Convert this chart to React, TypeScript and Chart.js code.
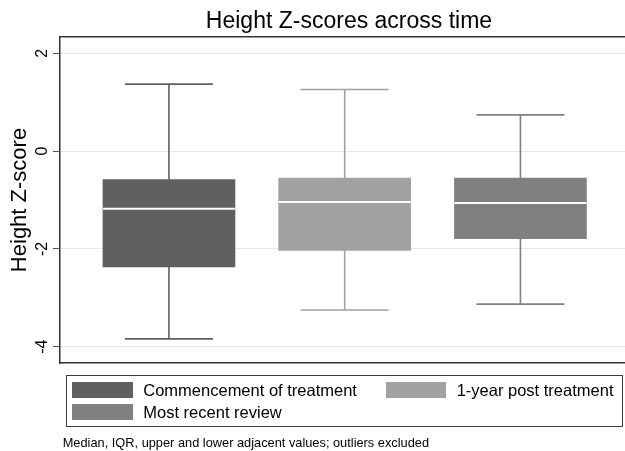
import React, { useEffect, useRef } from 'react';
import { Chart, registerables } from 'chart.js';

Chart.register(...registerables);

// ---- data ----
const categories = ['Commencement of treatment', '1-year post treatment', 'Most recent review'];
const positions = [1, 2, 3];
const upperAdjacent = [1.37, 1.26, 0.74];
const q3Values = [-0.58, -0.55, -0.55];
const medians = [-1.18, -1.04, -1.06];
const q1Values = [-2.37, -2.03, -1.79];
const lowerAdjacent = [-3.84, -3.25, -3.13];
const yTickValues = [-4, -2, 0, 2];
const boxColors = ['#606060', '#a1a1a1', '#808080'];
const chartTitle = 'Height Z-scores across time';
const yAxisTitle = 'Height Z-score';
const footnote = 'Median, IQR, upper and lower adjacent values; outliers excluded';

const FONT = "'Liberation Sans', Arial, Helvetica, sans-serif";

const boxPlugin = {
  id: 'boxWhiskers',
  beforeDatasetsDraw(chart: any) {
    const { ctx } = chart;
    const y = chart.scales.y;
    ctx.save();
    categories.forEach((_, i) => {
      const bar = chart.getDatasetMeta(i).data[0];
      if (!bar) return;
      const { x, width } = bar.getProps(['x', 'width'], true);
      const half = width / 3;
      const yMax = y.getPixelForValue(upperAdjacent[i]);
      const yQ3 = y.getPixelForValue(q3Values[i]);
      const yQ1 = y.getPixelForValue(q1Values[i]);
      const yMin = y.getPixelForValue(lowerAdjacent[i]);
      ctx.strokeStyle = boxColors[i];
      ctx.lineWidth = 1.6;
      ctx.beginPath();
      ctx.moveTo(x, yQ3);
      ctx.lineTo(x, yMax);
      ctx.moveTo(x - half, yMax);
      ctx.lineTo(x + half, yMax);
      ctx.moveTo(x, yQ1);
      ctx.lineTo(x, yMin);
      ctx.moveTo(x - half, yMin);
      ctx.lineTo(x + half, yMin);
      ctx.stroke();
    });
    ctx.restore();
  },
  afterDatasetsDraw(chart: any) {
    const { ctx } = chart;
    const y = chart.scales.y;
    ctx.save();
    categories.forEach((_, i) => {
      const bar = chart.getDatasetMeta(i).data[0];
      if (!bar) return;
      const { x, width } = bar.getProps(['x', 'width'], true);
      const yMed = y.getPixelForValue(medians[i]);
      ctx.strokeStyle = '#ffffff';
      ctx.lineWidth = 2;
      ctx.beginPath();
      ctx.moveTo(x - width / 2, yMed);
      ctx.lineTo(x + width / 2, yMed);
      ctx.stroke();
    });
    ctx.restore();
  },
};

export default function App() {
  const canvasRef = useRef<HTMLCanvasElement | null>(null);

  useEffect(() => {
    if (!canvasRef.current) return;
    Chart.defaults.font.family = FONT;
    const chart = new Chart(canvasRef.current, {
      type: 'bar',
      data: {
        datasets: categories.map((label, i) => ({
          label,
          data: [{ x: positions[i], y: [q1Values[i], q3Values[i]] }],
          backgroundColor: boxColors[i],
          borderWidth: 0,
          barThickness: 132,
          grouped: false,
        })) as any,
      },
      options: {
        animation: false,
        responsive: true,
        maintainAspectRatio: false,
        layout: { padding: { top: 37, left: 0, right: 0, bottom: 0 } },
        plugins: {
          legend: { display: false },
          tooltip: { enabled: false },
          title: { display: false },
        },
        scales: {
          x: {
            type: 'linear',
            position: 'bottom',
            min: 0.38,
            max: 3.595,
            offset: false,
            grid: { display: false, offset: false },
            ticks: { display: false },
            border: { display: true, color: '#333333', width: 1.5 },
            afterFit: (scale: any) => {
              scale.height = 88;
            },
          },
          x2: {
            type: 'linear',
            position: 'top',
            min: 0.38,
            max: 3.595,
            offset: false,
            grid: { display: false },
            ticks: { display: false },
            border: { display: true, color: '#333333', width: 1.5 },
            afterFit: (scale: any) => {
              scale.height = 0;
            },
          },
          y: {
            type: 'linear',
            min: -4.333,
            max: 2.333,
            afterBuildTicks: (scale: any) => {
              scale.ticks = yTickValues.map((v) => ({ value: v }));
            },
            afterFit: (scale: any) => {
              scale.width = 60;
            },
            grid: {
              color: '#e6e6e6',
              lineWidth: 1,
              tickColor: '#555555',
              tickLength: 7,
              drawTicks: true,
            },
            border: { display: true, color: '#333333', width: 1.5 },
            ticks: {
              color: '#000000',
              font: { size: 16, family: FONT },
              minRotation: 90,
              maxRotation: 90,
              crossAlign: 'center',
              padding: 3,
            },
            title: {
              display: true,
              text: yAxisTitle,
              color: '#000000',
              font: { size: 22, family: FONT },
              padding: { top: 7, bottom: 0 },
            },
          },
        },
      } as any,
      plugins: [boxPlugin],
    });
    return () => chart.destroy();
  }, []);

  return (
    <div
      style={{
        position: 'absolute',
        left: 0,
        top: 0,
        width: 625,
        height: 451,
        background: '#ffffff',
        fontFamily: FONT,
        overflow: 'hidden',
      }}
    >
      <canvas ref={canvasRef} />
      <div
        style={{
          position: 'absolute',
          left: 349,
          top: 9,
          transform: 'translateX(-50%)',
          fontSize: 23,
          lineHeight: '23px',
          whiteSpace: 'nowrap',
          color: '#000',
        }}
      >
        {chartTitle}
      </div>
      <div
        style={{
          position: 'absolute',
          left: 65.7,
          top: 375,
          width: 557,
          height: 52,
          boxSizing: 'border-box',
          border: '1px solid #3a3a3a',
          paddingLeft: 5.6,
          paddingTop: 5.7,
          display: 'grid',
          gridTemplateColumns: '313.4px auto',
          gridAutoRows: '22.3px',
        }}
      >
        {categories.map((label, i) => (
          <div key={label} style={{ display: 'flex', alignItems: 'flex-start', height: 22.3 }}>
            <div style={{ width: 60.4, height: 16, background: boxColors[i], flex: 'none' }} />
            <div
              style={{
                marginLeft: 10.6,
                fontSize: 16.5,
                lineHeight: '16px',
                whiteSpace: 'nowrap',
                color: '#000',
              }}
            >
              {label}
            </div>
          </div>
        ))}
      </div>
      <div
        style={{
          position: 'absolute',
          left: 62.7,
          top: 436,
          fontSize: 12.8,
          lineHeight: '13px',
          whiteSpace: 'nowrap',
          color: '#000',
        }}
      >
        {footnote}
      </div>
    </div>
  );
}
